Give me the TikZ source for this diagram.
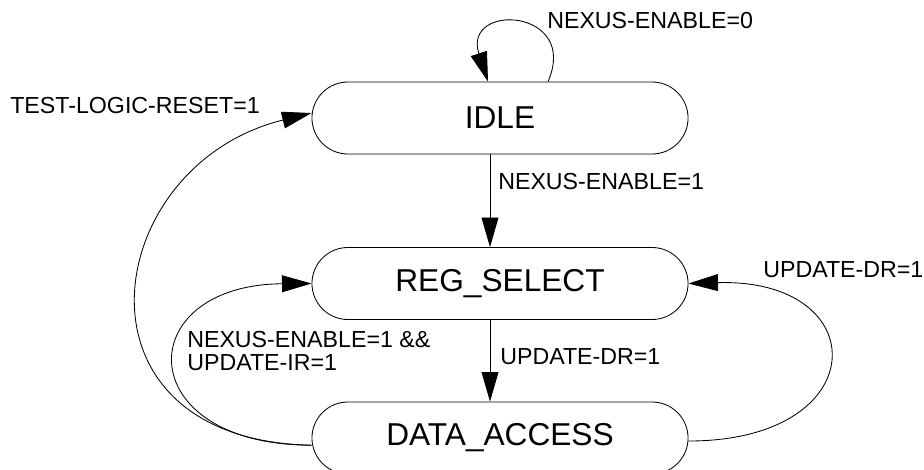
\documentclass[tikz,border=0pt]{standalone}
\usepackage{fontspec}
\setmainfont{Liberation Sans}
\usetikzlibrary{arrows.meta}
\begin{document}
\begin{tikzpicture}[
  x=0.025cm, y=-0.025cm,
  box/.style={draw, line width=0.6pt, rounded corners=0.9cm, minimum width=9.4cm, minimum height=1.8cm, font=\fontsize{22.5}{26}\selectfont},
  lbl/.style={inner sep=0, anchor=west, align=left, font=\fontsize{16.5}{16}\selectfont},
  arr/.style={-{Triangle[length=21pt, width=12pt]}, line width=0.6pt}
]
\useasboundingbox (0,0) rectangle (924,469);
\node[box] (idle) at (500,118) {IDLE};
\node[box] (regsel) at (500,283.5) {REG\_SELECT};
\node[box] (data) at (500,438) {DATA\_ACCESS};
% labels
\node[lbl] (lnexus0) at (547,21) {NEXUS-ENABLE=0};
\node[lbl] (lreset) at (10,106) {TEST-LOGIC-RESET=1};
\node[lbl] (lnexus1) at (498,182) {NEXUS-ENABLE=1};
\node[lbl] (lupdtop) at (763,270) {UPDATE-DR=1};
\node[lbl] (lupdir) at (187,351) {NEXUS-ENABLE=1 \&\&\\UPDATE-IR=1};
\node[lbl] (lupdmid) at (500,357) {UPDATE-DR=1};
% transitions
\draw[arr] ([xshift=1.2cm]idle.north) .. controls (580,8) and (462,2) .. ([xshift=-0.3cm]idle.north);
\draw[arr] ([xshift=-0.25cm]idle.south) -- ([xshift=-0.25cm]regsel.north);
\draw[arr] ([xshift=-0.25cm]regsel.south) -- ([xshift=-0.25cm]data.north);
\draw[arr] ([yshift=-0.18cm]data.west) .. controls (60,440) and (100,165) .. ([yshift=0.125cm]idle.west);
\draw[arr] ([yshift=-0.18cm]data.west) .. controls (130,445) and (130,285) .. (regsel.west);
\draw[arr] ([yshift=-0.075cm]data.east) .. controls (875,441) and (875,278) .. (regsel.east);
\end{tikzpicture}
\end{document}
